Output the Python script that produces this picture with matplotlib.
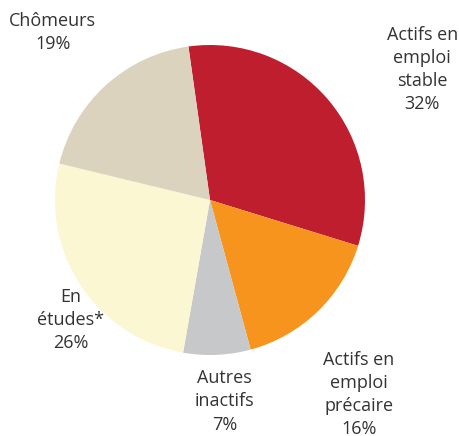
import matplotlib.pyplot as plt

plt.rcParams['font.family'] = ['Open Sans', 'DejaVu Sans']

labels = ["Actifs en\nemploi\nstable", "Actifs en\nemploi\nprécaire",
          "Autres\ninactifs", "En\nétudes*", "Chômeurs"]
shares = [32, 16, 7, 26, 19]
colors = ["#BE1E2D", "#F7941E", "#C7C8CA", "#FAF7D2", "#DCD3BE"]

# label centres, in units of the pie radius
label_xy = [(1.37, 0.84), (0.96, -1.255), (0.095, -1.30), (-0.90, -0.775), (-1.015, 1.08)]

fig = plt.figure(figsize=(4.6, 4.36), dpi=100)
ax = fig.add_axes([55/460, 81/436, 310/460, 310/436])

ax.pie(shares, colors=colors, startangle=98, counterclock=False,
       radius=1, wedgeprops=dict(linewidth=0))
ax.set_xlim(-1, 1)
ax.set_ylim(-1, 1)

for lab, v, (x, y) in zip(labels, shares, label_xy):
    ax.text(x, y, f"{lab}\n{v}%", ha='center', va='center', fontsize=13,
            color='#333333', linespacing=1.36, clip_on=False)

plt.savefig("out.png", dpi=100)
